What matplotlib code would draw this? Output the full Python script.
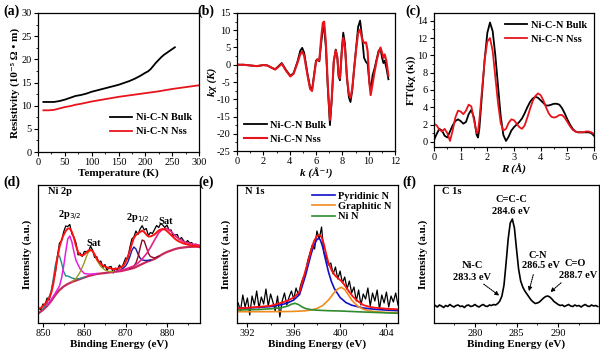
import matplotlib
matplotlib.use("Agg")
import matplotlib.pyplot as plt
from matplotlib.ticker import MultipleLocator

plt.rcParams['font.family'] = ['Liberation Serif', 'DejaVu Serif']
plt.rcParams['font.size'] = 7.5
plt.rcParams['axes.linewidth'] = 0.9
plt.rcParams['axes.unicode_minus'] = False

# ---------------- (a) resistivity ----------------
temp_bulk = [10, 20, 30, 40, 50, 60, 70, 80, 90, 100, 110, 120, 130, 140, 150, 160, 170,
             180, 190, 200, 205, 210, 215, 220, 225, 230, 235, 240, 245, 250, 255]
res_bulk = [10.8, 10.8, 10.8, 11.0, 11.3, 11.7, 12.1, 12.3, 12.6, 13.0, 13.3, 13.6, 13.9,
            14.2, 14.5, 14.9, 15.3, 15.8, 16.4, 17.1, 17.4, 17.9, 18.6, 19.3, 19.9, 20.5,
            21.0, 21.4, 21.8, 22.2, 22.6]
temp_nss = [10, 20, 30, 40, 50, 60, 70, 80, 100, 125, 150, 175, 200, 225, 250, 275, 300]
res_nss = [9.0, 9.0, 9.1, 9.4, 9.7, 9.9, 10.2, 10.4, 10.9, 11.4, 11.9, 12.3, 12.7, 13.1,
           13.6, 14.0, 14.4]

# ---------------- (b) k-space EXAFS ----------------
k_vals = [0.0, 0.5, 1.0, 1.5, 2.0, 2.3, 2.6, 2.9, 3.15, 3.4, 3.7, 4.05, 4.3, 4.6, 4.8, 4.95,
          5.1, 5.35, 5.55, 5.7, 5.85, 6.0, 6.1, 6.25, 6.4, 6.52, 6.62, 6.75, 6.9, 7.06, 7.2,
          7.35, 7.5, 7.62, 7.72, 7.82, 7.95, 8.07, 8.2, 8.35, 8.5, 8.62, 8.75, 8.9, 9.05, 9.2,
          9.35, 9.5, 9.65, 9.8, 9.92, 10.05, 10.15, 10.3, 10.45, 10.6, 10.75, 10.9, 11.02,
          11.12, 11.22, 11.35, 11.5]
kchi_bulk = [0.0, 0.0, -0.2, -0.4, -0.1, -0.2, -0.8, -1.3, -0.4, 0.5, -1.4, -3.2, -2.4, 1.0,
             4.0, 4.9, 3.5, -2.5, -6.5, -7.2, -3.0, 1.2, 1.6, 1.0, 6.5, 10.3, 10.8, 5.0, -7.0,
             -17.5, -10.0, 1.0, 4.4, 2.0, -3.5, -4.5, 4.0, 9.3, 6.0, -4.0, -9.5, -10.8, -7.5,
             -1.0, 5.0, 11.0, 12.8, 8.0, 2.0, 0.8, 0.3, -5.0, -7.5, -3.0, -1.0, 1.5, 4.0, 4.6,
             2.0, 0.5, 1.2, -1.0, -4.2]
kchi_nss = [0.0, 0.0, -0.2, -0.4, -0.1, -0.2, -0.8, -1.4, -0.6, 0.3, -1.6, -3.4, -2.6, 0.6,
            3.0, 3.8, 2.6, -3.0, -7.0, -7.6, -3.5, 0.8, 1.5, 1.2, 8.0, 12.2, 12.5, 6.5, -6.0,
            -16.0, -9.5, 1.0, 4.2, 2.2, -3.0, -4.0, 3.0, 7.8, 5.0, -3.5, -8.5, -9.6, -7.0,
            -1.0, 4.5, 9.2, 10.2, 7.5, 6.3, 6.5, 4.0, -5.0, -8.8, -5.5, -2.0, 1.0, 3.5, 5.0,
            3.5, 2.0, 3.0, 1.0, -3.2]

# ---------------- (c) R-space FT ----------------
r_vals = [0.0, 0.1, 0.2, 0.3, 0.4, 0.5, 0.6, 0.7, 0.8, 0.9, 1.0, 1.1, 1.2, 1.3, 1.4, 1.5,
          1.6, 1.65, 1.7, 1.8, 1.9, 2.0, 2.1, 2.2, 2.3, 2.4, 2.5, 2.6, 2.7, 2.8, 2.9, 3.0,
          3.1, 3.2, 3.3, 3.4, 3.5, 3.6, 3.7, 3.8, 3.9, 4.0, 4.1, 4.2, 4.3, 4.4, 4.5, 4.6,
          4.7, 4.8, 4.9, 5.0, 5.1, 5.2, 5.3, 5.4, 5.5, 5.6, 5.7, 5.8, 5.9, 6.0]
ft_bulk = [0.2, 0.9, 1.5, 1.3, 0.7, 0.5, 1.2, 1.9, 2.4, 2.6, 2.4, 2.1, 2.3, 3.2, 3.7, 2.8,
           0.8, 0.5, 1.5, 5.5, 9.5, 12.6, 13.8, 12.8, 10.0, 6.5, 3.0, 0.8, 0.1, 0.6, 1.3,
           1.7, 2.0, 2.3, 2.7, 3.3, 4.0, 4.6, 5.0, 5.2, 5.1, 4.8, 4.5, 4.2, 4.2, 4.3, 4.4,
           4.4, 4.3, 3.9, 3.3, 2.6, 2.0, 1.5, 1.2, 1.1, 1.1, 1.1, 1.1, 1.1, 1.0, 0.7]
ft_nss = [2.1, 1.9, 1.4, 1.2, 1.5, 1.0, 0.1, 1.3, 2.8, 3.6, 3.5, 3.2, 3.6, 4.3, 4.1, 2.5,
          1.0, 1.2, 2.5, 6.0, 9.5, 11.6, 12.0, 10.5, 7.5, 4.5, 2.2, 1.3, 1.5, 2.2, 2.6, 2.5,
          2.1, 1.7, 1.5, 1.9, 2.8, 3.8, 4.7, 5.3, 5.6, 5.4, 4.8, 4.0, 3.3, 2.9, 2.8, 2.9,
          3.1, 3.1, 2.8, 2.3, 1.8, 1.4, 1.2, 1.1, 1.1, 1.1, 1.2, 1.2, 1.1, 0.9]

# ---------------- (d) Ni 2p ----------------
ni_e = [849.0 + 0.5 * i for i in range(79)]
ni_data = [15, 13, 19, 18, 25, 23, 31, 42, 50, 67, 80, 82, 91, 97, 96.5, 98.5, 89, 86, 80,
           68, 70, 66.5, 71.5, 71.5, 70.5, 77, 73, 65.5, 66.5, 60.5, 62, 55.5, 58.5, 52.5,
           56, 56.5, 50, 55, 52.5, 58, 55, 59.5, 65, 64, 75, 84, 86, 92, 88.5, 94, 97.3, 93,
           94.5, 87.5, 90.5, 89.5, 93.5, 97.5, 95.5, 99.5, 97.8, 95.5, 98, 93, 93, 87, 88,
           88.5, 83.3, 85.5, 82.5, 80, 82.5, 80, 80.5, 77, 79, 77.5, 75.3]
ni_fit = [14, 15, 17, 19, 22, 25, 30, 39, 52, 65, 76, 83, 88, 92, 94.5, 94.5, 91, 85, 77,
          71, 68, 67.5, 68.5, 70.5, 72.5, 73, 72, 68.5, 64.5, 61.5, 59, 57.5, 56.5, 55.5,
          55, 54.5, 54, 54, 54.5, 55, 56, 57.5, 61, 66, 72, 79, 85, 88, 89.5, 91, 92.3, 91,
          88.5, 86.5, 86.5, 87.5, 88.5, 90.5, 92.5, 93.5, 93.8, 93.5, 92, 90, 88, 86, 84,
          82.5, 81.3, 80.5, 79.5, 79, 78.5, 78, 77.5, 77, 77, 76.5, 76.3]
ni_bg_e = list(range(849, 889))
ni_bg = [10, 13, 17, 22, 28, 33, 36.5, 39, 41, 42.5, 44, 45.5, 47, 48, 49, 49.5, 50, 50.5,
         51, 51.5, 52, 53, 54, 55, 57, 59, 61, 62.5, 64, 66.5, 69, 71, 72.5, 74, 75, 75.5,
         76, 76.2, 76.3, 76.3]
teal_e = [850, 851, 852, 852.5, 853, 853.5, 854, 854.5, 855, 855.5, 856, 857, 858, 859, 860]
teal_v = [14, 20, 32, 44, 58, 66.5, 67, 60, 51.5, 47, 47, 45, 44, 44.5, 45.5]
mag_e = [851, 852, 853, 854, 854.5, 855, 855.5, 856, 856.5, 857, 857.5, 858, 859, 860, 861,
         862, 863]
mag_v = [18, 23.5, 30, 37, 45, 56.5, 71, 84, 87, 81, 71, 62.5, 54, 49.5, 49, 49, 49.5]
olive_e = [857, 858, 859, 860, 860.5, 861, 861.5, 862, 862.5, 863, 864, 865, 866, 867]
olive_v = [41.5, 44.5, 51, 60.5, 66.3, 71, 72.5, 72, 68.5, 63, 56.5, 53, 51.5, 51.5]
navy_e = [868, 869, 870, 870.5, 871, 871.5, 872, 872.5, 873, 873.5, 874, 875, 876]
navy_v = [52, 53.5, 57, 60.5, 66, 72.5, 76, 74, 69, 65, 63, 62.5, 63]
maroon_e = [871, 872, 872.5, 873, 873.5, 874, 874.5, 875, 875.5, 876, 877, 878]
maroon_v = [54.5, 57, 60, 66, 75, 83, 82, 76, 69.8, 66.5, 65, 66.8]
pink_e = [868, 870, 872, 873, 874, 875, 876, 877, 878, 879, 880, 881, 882, 883, 884, 885,
          886, 887, 888]
pink_v = [52, 54, 57, 60, 64, 69, 75.5, 83, 90, 94, 94.5, 91.5, 87, 84, 81.5, 80, 79.2,
          78.3, 77.8]

# ---------------- (e) N 1s ----------------
n_e = [391.2 + 0.2 * i for i in range(70)]
n_data = [20, 12, 28, 16, 25, 8, 27, 18, 32, 15, 26, 19, 34, 17, 29, 21, 12, 27, 6, 22, 30,
          18, 26, 32, 24, 35, 28, 38, 45, 50, 62, 70, 78, 74, 92, 84, 96, 70, 66, 58, 60,
          49, 56, 44, 52, 40, 46, 34, 42, 30, 36, 22, 33, 18, 29, 24, 35, 17, 30, 22, 33,
          14, 28, 20, 31, 16, 27, 21, 30, 18]
pyr_e = [391.1, 392, 393, 394, 395, 395.5, 396, 396.5, 397, 397.25, 397.5, 397.75, 398,
         398.15, 398.3, 398.5, 398.75, 399, 399.25, 399.5, 400, 400.5, 401, 402, 403, 404, 405]
pyr_v = [14.7, 15.0, 15.6, 16.4, 18.5, 20.2, 23, 28.5, 47, 58, 69, 78, 83.5, 84.7, 83, 76,
         63, 51, 41.5, 34.5, 25.5, 20.5, 17.8, 15, 13.7, 12.9, 12.3]
gra_e = [391.1, 393, 395, 396, 397, 397.5, 398, 398.5, 399, 399.5, 399.8, 400.1, 400.4,
         400.7, 401, 401.5, 402, 402.5, 403, 404, 405]
gra_v = [11.3, 11.3, 11.4, 11.6, 12.2, 13, 14.5, 17.5, 23, 30.5, 34, 35.7, 33.5, 28.5, 23,
         17, 13.8, 12.2, 11.3, 10.6, 10.2]
nin_e = [391.1, 393, 394, 395, 395.5, 395.8, 396.1, 396.4, 396.7, 397, 397.5, 398, 399,
         400, 402, 405]
nin_v = [13, 13.5, 14.2, 15.5, 17, 18.8, 19.7, 18.5, 16.2, 14.5, 13.3, 12.8, 12.3, 12, 11,
         9.7]
nfit_e = [391.1, 392, 393, 394, 395, 395.5, 396, 396.5, 397, 397.25, 397.5, 397.75, 398,
          398.2, 398.4, 398.6, 398.8, 399, 399.3, 399.6, 399.9, 400.2, 400.5, 400.8, 401.1,
          401.5, 402, 402.5, 403, 404, 405]
nfit_v = [14.7, 15.2, 16.2, 17.2, 20.5, 22.5, 25.5, 31, 52, 62, 73, 82, 87, 88, 86, 79, 69,
          60, 52, 47, 44, 41, 36, 31, 26.5, 22, 18, 16.3, 15.3, 14.3, 13.7]

# ---------------- (f) C 1s ----------------
c_e = [275.25 + 0.25 * i for i in range(79)]
c_data = [17.5, 16, 18, 17, 15.5, 17.5, 16.5, 18.5, 17, 16, 17.5, 18, 16.5, 17, 15.5, 17.5,
          18, 16.5, 17, 18.5, 17, 16, 17.5, 18.5, 17, 16.5, 18, 17.5, 18.5, 18, 19.5, 22,
          27, 38, 60, 84, 100, 104, 95, 74, 54, 42, 36, 32, 29, 26, 23, 21, 19.5, 20, 21,
          23, 25, 26.5, 27, 26, 24, 21.5, 20, 18.5, 17.5, 18, 16.5, 17.5, 18.5, 17, 16.5,
          18, 17, 17.5, 16, 17.5, 18.5, 17, 16.5, 18, 17, 17.5, 16.5]

fig = plt.figure(figsize=(6, 3.5), dpi=100)


def add_ax(l, t, r, b):
    return fig.add_axes([l / 600, 1 - b / 350, (r - l) / 600, (b - t) / 350])


def style(ax, xmaj, xmin, ymaj=None, ymin=None):
    ax.xaxis.set_major_locator(MultipleLocator(xmaj))
    ax.xaxis.set_minor_locator(MultipleLocator(xmin))
    if ymaj is None:
        ax.set_yticks([])
    else:
        ax.yaxis.set_major_locator(MultipleLocator(ymaj))
        ax.yaxis.set_minor_locator(MultipleLocator(ymin))
    ax.tick_params(which='major', direction='out', length=3, width=0.8, labelsize=7.5, pad=1.5)
    ax.tick_params(which='minor', direction='out', length=1.6, width=0.6)


bold = dict(fontweight='bold', fontsize=8)
legkw = dict(frameon=False, prop={'weight': 'bold', 'size': 7.5}, handlelength=2.2,
             handletextpad=0.3, labelspacing=0.45, borderaxespad=0.3)

# (a)
ax1 = add_ax(38, 13, 199, 152)
ax1.plot(temp_bulk, res_bulk, color='black', lw=1.3, label='Ni-C-N Bulk')
ax1.plot(temp_nss, res_nss, color='#e8141c', lw=1.3, label='Ni-C-N Nss')
ax1.set_xlim(0, 300)
ax1.set_ylim(0, 30)
style(ax1, 50, 25, 5, 2.5)
ax1.set_xlabel('Temperature (K)', labelpad=1, **bold)
ax1.set_ylabel('Resistivity (10⁻⁵ Ω • m)', labelpad=1, **bold)
ax1.legend(loc='lower right', bbox_to_anchor=(1.0, 0.06), **legkw)

# (b)
ax2 = add_ax(237, 13, 395, 151)
ax2.plot(k_vals, kchi_bulk, color='black', lw=1.3, label='Ni-C-N Bulk')
ax2.plot(k_vals, kchi_nss, color='#e8141c', lw=1.5, label='Ni-C-N Nss')
ax2.set_xlim(0, 12)
ax2.set_ylim(-25, 15)
style(ax2, 2, 1, 5, 2.5)
ax2.set_xlabel('k (Å⁻¹)', labelpad=1, fontstyle='italic', **bold)
ax2.set_ylabel('kχ (K)', labelpad=0, fontstyle='italic', **bold)
ax2.legend(loc='lower left', **legkw)

# (c)
ax3 = add_ax(434, 13, 594, 147)
ax3.plot(r_vals, ft_bulk, color='black', lw=1.3, label='Ni-C-N Bulk')
ax3.plot(r_vals, ft_nss, color='#e8141c', lw=1.3, label='Ni-C-N Nss')
ax3.set_xlim(0, 6)
ax3.set_ylim(-0.6, 14.9)
style(ax3, 1, 0.5, 2, 1)
ax3.set_xlabel('R (Å)', labelpad=1, fontstyle='italic', **bold)
ax3.set_ylabel('FT(kχ (κ))', labelpad=1, **bold)
ax3.legend(loc='upper right', **legkw)

# (d)
ax4 = add_ax(38, 185, 200, 323)
ax4.plot(ni_e, ni_data, color='black', lw=0.9)
ax4.plot(ni_bg_e, ni_bg, color='#c8285a', lw=1.6)
ax4.plot(teal_e, teal_v, color='#1f8a8a', lw=1.0)
ax4.plot(mag_e, mag_v, color='#e81ee0', lw=1.1)
ax4.plot(olive_e, olive_v, color='#9a9a20', lw=1.0)
ax4.plot(navy_e, navy_v, color='#1a1aa0', lw=1.0)
ax4.plot(maroon_e, maroon_v, color='#8b0a2a', lw=1.0)
ax4.plot(pink_e, pink_v, color='#e8208c', lw=1.2)
ax4.plot(ni_e, ni_fit, color='#ff1010', lw=1.4)
ax4.set_xlim(848.8, 888)
ax4.set_ylim(0, 138)
style(ax4, 10, 5)
ax4.set_xlabel('Binding Energy (eV)', labelpad=1, **bold)
ax4.set_ylabel('Intensity (a.u.)', labelpad=4, **bold)
ax4.text(851.1, 131, 'Ni 2p', fontweight='bold', fontsize=7.5, va='center')
ax4.text(856.6, 107, '2p$_{3/2}$', fontweight='bold', fontsize=7.5, ha='center', va='center')
ax4.text(862.2, 79, 'Sat', fontweight='bold', fontsize=7.5, ha='center', va='center')
ax4.text(873.0, 104, '2p$_{1/2}$', fontweight='bold', fontsize=7.5, ha='center', va='center')
ax4.text(879.8, 102, 'Sat', fontweight='bold', fontsize=7.5, ha='center', va='center')

# (e)
ax5 = add_ax(237, 185, 398, 323)
ax5.plot(n_e, n_data, color='black', lw=0.9)
ax5.plot(pyr_e, pyr_v, color='#1010c8', lw=1.2, label='Pyridinic N')
ax5.plot(gra_e, gra_v, color='#f08c1e', lw=1.2, label='Graphitic N')
ax5.plot(nin_e, nin_v, color='#2e8b2e', lw=1.2, label='Ni N')
ax5.plot(nfit_e, nfit_v, color='#ff1010', lw=1.3)
ax5.set_xlim(391.1, 405)
ax5.set_ylim(0, 138)
style(ax5, 4, 2)
ax5.set_xlabel('Binding Energy (eV)', labelpad=1, **bold)
ax5.set_ylabel('Intensity (a.u.)', labelpad=4, **bold)
ax5.text(391.8, 131, 'N 1s', fontweight='bold', fontsize=7.5, va='center')
ax5.legend(loc='upper right', frameon=False, prop={'weight': 'bold', 'size': 7.5},
           handlelength=2.2, handletextpad=0.3, labelspacing=0.1, borderaxespad=0.2)

# (f)
ax6 = add_ax(434, 185, 599, 323)
ax6.plot(c_e, c_data, color='black', lw=1.2)
ax6.set_xlim(275.1, 294.9)
ax6.set_ylim(0, 138)
style(ax6, 5, 2.5)
ax6.set_xlabel('Binding Energy (eV)', labelpad=1, **bold)
ax6.set_ylabel('Intensity (a.u.)', labelpad=4, **bold)
ax6.text(276.0, 131, 'C 1s', fontweight='bold', fontsize=7.5, va='center')
tk = dict(fontweight='bold', fontsize=7.5, ha='center', va='center')
ax6.text(284.4, 123, 'C=C-C', **tk)
ax6.text(284.4, 111, '284.6 eV', **tk)
ax6.text(279.7, 57, 'Ni-C', **tk)
ax6.text(279.6, 46, '283.3 eV', **tk)
ax6.text(287.6, 68, 'C-N', **tk)
ax6.text(287.9, 57, '286.5 eV', **tk)
ax6.text(292.0, 60, 'C=O', **tk)
ax6.text(292.4, 47, '288.7 eV', **tk)
arr = dict(arrowstyle='-|>', linestyle=(0, (1, 1)), lw=0.8, color='black', mutation_scale=6)
ax6.annotate('', xy=(283.2, 25.7), xytext=(280.8, 40.5), arrowprops=arr)
ax6.annotate('', xy=(286.4, 29), xytext=(287.1, 51), arrowprops=arr)
ax6.annotate('', xy=(288.8, 29), xytext=(290.6, 42), arrowprops=arr)

# panel letters
for lbl, x, y in [('(a)', 12, 11), ('(b)', 206, 11), ('(c)', 413, 11),
                  ('(d)', 12, 182), ('(e)', 206, 182), ('(f)', 409, 182)]:
    fig.text(x / 600, 1 - y / 350, lbl, fontweight='bold', fontsize=10,
             ha='center', va='center')

fig.savefig('out.png', dpi=100)
